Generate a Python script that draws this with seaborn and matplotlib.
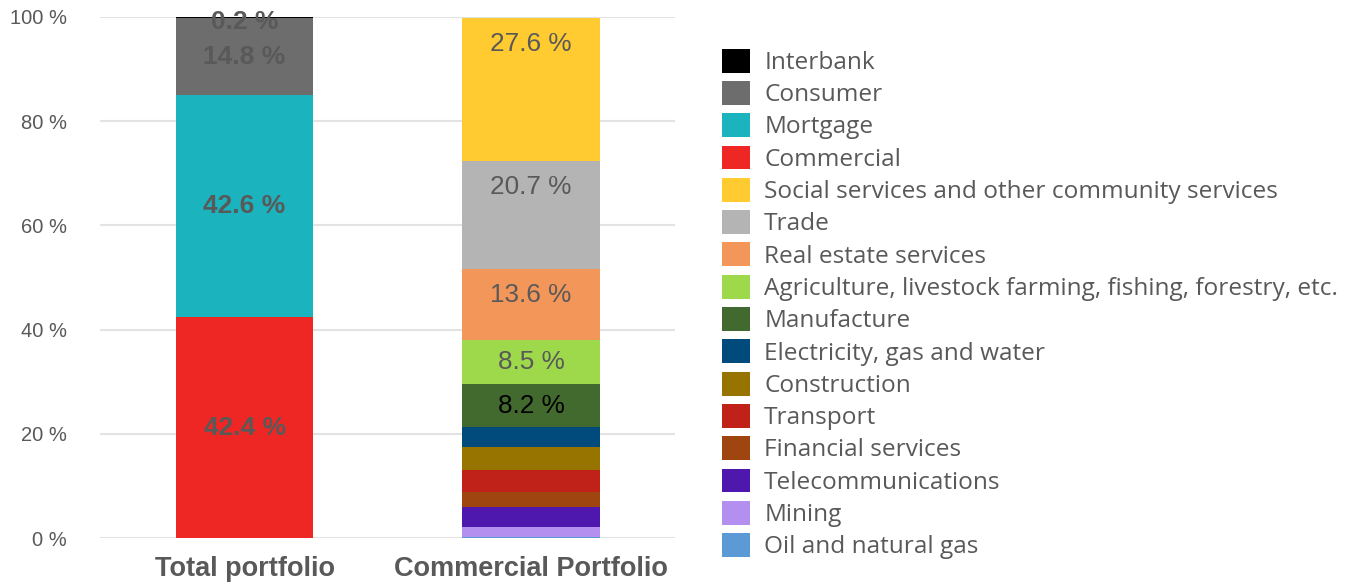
import pandas as pd
import matplotlib
matplotlib.use("Agg")
import matplotlib.pyplot as plt
import seaborn as sns
from matplotlib.patches import Patch

portfolios = ['Total portfolio', 'Commercial Portfolio']

# segments listed from bottom to top of each bar
total_segments = ['Commercial', 'Mortgage', 'Consumer', 'Interbank']
total_values = [42.4, 42.6, 14.8, 0.2]

commercial_segments = ['Oil and natural gas', 'Mining', 'Telecommunications',
                       'Financial services', 'Transport', 'Construction',
                       'Electricity, gas and water', 'Manufacture',
                       'Agriculture, livestock farming, fishing, forestry, etc.',
                       'Real estate services', 'Trade',
                       'Social services and other community services']
commercial_values = [0.1, 2.1, 3.8, 2.8, 4.3, 4.3, 3.9, 8.2, 8.5, 13.6, 20.7, 27.6]
commercial_labels = ['', '', '', '', '', '', '', '8.2 %', '8.5 %', '13.6 %', '20.7 %', '27.6 %']

colores = {
    'Interbank': '#000000',
    'Consumer': '#6d6d6d',
    'Mortgage': '#1bb3bd',
    'Commercial': '#ee2724',
    'Social services and other community services': '#ffcb31',
    'Trade': '#b4b4b4',
    'Real estate services': '#f2965a',
    'Agriculture, livestock farming, fishing, forestry, etc.': '#9dd94a',
    'Manufacture': '#426a2e',
    'Electricity, gas and water': '#004a7c',
    'Construction': '#977400',
    'Transport': '#c0221a',
    'Financial services': '#9f4610',
    'Telecommunications': '#4e17ae',
    'Mining': '#b38ff0',
    'Oil and natural gas': '#5b9ad5',
}

sns.set_style("white")
gris = '#595959'

fig = plt.figure(figsize=(13.53, 5.83), dpi=100)
ax = fig.add_axes([100 / 1353, 1 - 538 / 583, 575 / 1353, 521 / 583])

# Total portfolio
base = 0
for seg, val in zip(total_segments, total_values):
    sns.barplot(x=[portfolios[0]], y=[val], bottom=base, color=colores[seg],
                width=0.48, order=portfolios, errorbar=None, saturation=1,
                linewidth=0, ax=ax)
    y = min(base + val / 2, 99.0)
    ax.text(0, y, f'{val} %', ha='center', va='center',
            fontsize=19, fontweight='bold', color=gris, family='Liberation Sans')
    base += val

# Commercial portfolio
base = 0
for seg, val, lab in zip(commercial_segments, commercial_values, commercial_labels):
    sns.barplot(x=[portfolios[1]], y=[val], bottom=base, color=colores[seg],
                width=0.48, order=portfolios, errorbar=None, saturation=1,
                linewidth=0, ax=ax)
    if lab:
        top = base + val
        y = max(base + val / 2, top - 5)
        c = 'black' if seg == 'Manufacture' else gris
        ax.text(1, y, lab, ha='center', va='center', fontsize=18.8,
                color=c, family='Liberation Sans')
    base += val

ax.set_ylim(0, 100)
ax.set_xlim(-0.505, 1.503)
ax.set_yticks([0, 20, 40, 60, 80, 100])
ax.set_yticklabels([f'{t} %' for t in [0, 20, 40, 60, 80, 100]],
                   fontsize=14.5, color=gris, family='Liberation Sans')
ax.set_xticklabels(portfolios, fontsize=19.5, fontweight='bold', color=gris,
                   family='Liberation Sans')
ax.tick_params(axis='y', length=0, pad=24)
ax.tick_params(axis='x', length=0, pad=13)
ax.set_xlabel('')
ax.set_ylabel('')
ax.yaxis.grid(True, color='#e3e3e3', linewidth=1.5)
ax.set_axisbelow(True)
for s in ax.spines.values():
    s.set_visible(False)

orden_leyenda = total_segments[::-1] + commercial_segments[::-1]
handles = [Patch(facecolor=colores[s], edgecolor='none', label=s) for s in orden_leyenda]
leg = fig.legend(handles=handles, loc='center left',
                 bbox_to_anchor=(722 / 1353, 1 - 304 / 583), frameon=False,
                 prop={'family': 'Open Sans', 'size': 17.55},
                 handlelength=1.13, handleheight=1.13, handletextpad=0.6,
                 labelspacing=0.25, borderpad=0, borderaxespad=0)
for t in leg.get_texts():
    t.set_color(gris)

fig.savefig('out.png', dpi=100)
